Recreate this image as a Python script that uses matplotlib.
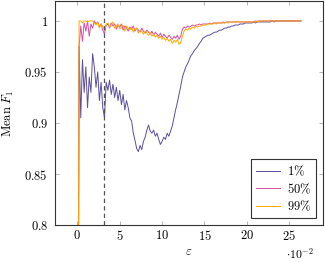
# Mean F1 against epsilon for three percentiles
import numpy as np
import matplotlib as mpl
mpl.use('Agg')
import matplotlib.pyplot as plt

mpl.rc('mathtext', fontset='cm')
mpl.rc('font', family='serif', serif=['DejaVu Serif'])

# epsilon grid, in units of 1e-2
eps = np.round(np.arange(0, 26.41, 0.2), 2)

f1_1 = [0.40, 0.975, 0.905, 0.962, 0.930, 0.955, 0.915, 0.945, 0.930, 0.968,
        0.955, 0.935, 0.950, 0.922, 0.940, 0.915, 0.905, 0.940, 0.932, 0.942,
        0.928, 0.938, 0.925, 0.935, 0.922, 0.932, 0.918, 0.928, 0.913, 0.922,
        0.915, 0.905, 0.902, 0.890, 0.883, 0.875, 0.872, 0.878, 0.874, 0.882,
        0.886, 0.893, 0.898, 0.892, 0.890, 0.893, 0.887, 0.890, 0.884, 0.879,
        0.882, 0.886, 0.884, 0.890, 0.887, 0.892, 0.897, 0.905, 0.913, 0.920,
        0.928, 0.936, 0.945, 0.950, 0.955, 0.958, 0.962, 0.966, 0.968, 0.971,
        0.973, 0.975, 0.978, 0.980, 0.983, 0.984, 0.985, 0.986, 0.986, 0.987,
        0.988, 0.989, 0.989, 0.990, 0.991, 0.991, 0.992, 0.993, 0.993, 0.994,
        0.994, 0.995, 0.995, 0.996, 0.996, 0.996, 0.997, 0.997, 0.997, 0.998,
        0.998, 0.998, 0.998, 0.998, 0.999, 0.998, 0.999, 0.999, 0.999, 0.999,
        0.999, 0.999, 0.999, 0.999, 0.999, 1.000, 0.999, 1.000, 1.000, 1.000,
        1.000, 1.000, 1.000, 1.000, 1.000, 1.000, 1.000, 1.000, 1.000, 1.000,
        1.000, 1.000, 1.000]

f1_50 = [0.30, 0.975, 0.995, 0.980, 0.998, 0.990, 1.000, 0.985, 0.997, 0.993,
         1.000, 0.997, 0.999, 0.994, 0.997, 0.991, 0.987, 0.996, 0.997, 0.993,
         0.998, 0.995, 0.997, 0.992, 0.996, 0.994, 0.997, 0.991, 0.995, 0.993,
         0.990, 0.994, 0.992, 0.995, 0.990, 0.993, 0.991, 0.989, 0.993, 0.990,
         0.988, 0.991, 0.989, 0.987, 0.990, 0.986, 0.989, 0.987, 0.985, 0.988,
         0.984, 0.987, 0.985, 0.983, 0.986, 0.984, 0.982, 0.985, 0.983, 0.986,
         0.982, 0.985, 0.992, 0.994, 0.993, 0.995, 0.994, 0.995, 0.996, 0.995,
         0.996, 0.996, 0.997, 0.996, 0.997, 0.997, 0.997, 0.997, 0.998, 0.997,
         0.998, 0.998, 0.998, 0.998, 0.998, 0.998, 0.999, 0.998, 0.999, 0.999,
         0.999, 0.999, 0.999, 0.999, 0.999, 0.999, 0.999, 0.999, 0.999, 0.999,
         0.999, 0.999, 0.999, 0.999, 0.999, 1.000, 0.999, 1.000, 1.000, 1.000,
         1.000, 1.000, 1.000, 1.000, 1.000, 1.000, 1.000, 1.000, 1.000, 1.000,
         1.000, 1.000, 1.000, 1.000, 1.000, 1.000, 1.000, 1.000, 1.000, 1.000,
         1.000, 1.000, 1.000]

f1_99 = [0.30, 1.000, 1.000, 0.998, 1.000, 1.000, 0.999, 1.000, 1.000, 1.000,
         0.998, 0.996, 0.999, 0.993, 0.997, 0.995, 0.991, 0.997, 0.998, 0.994,
         0.996, 0.999, 0.993, 0.995, 0.997, 0.992, 0.994, 0.996, 0.990, 0.995,
         0.993, 0.991, 0.994, 0.989, 0.992, 0.993, 0.988, 0.991, 0.990, 0.987,
         0.990, 0.988, 0.986, 0.989, 0.985, 0.987, 0.984, 0.986, 0.983, 0.985,
         0.982, 0.984, 0.981, 0.983, 0.980, 0.982, 0.978, 0.981, 0.979, 0.982,
         0.977, 0.979, 0.985, 0.990, 0.992, 0.991, 0.993, 0.992, 0.994, 0.993,
         0.995, 0.994, 0.995, 0.995, 0.996, 0.996, 0.996, 0.997, 0.997, 0.997,
         0.997, 0.998, 0.997, 0.998, 0.998, 0.998, 0.998, 0.998, 0.999, 0.998,
         0.999, 0.999, 0.999, 0.999, 0.999, 0.999, 0.999, 0.999, 0.999, 0.999,
         0.999, 0.999, 0.999, 0.999, 0.999, 0.999, 1.000, 0.999, 1.000, 1.000,
         1.000, 1.000, 1.000, 1.000, 1.000, 1.000, 1.000, 1.000, 1.000, 1.000,
         1.000, 1.000, 1.000, 1.000, 1.000, 1.000, 1.000, 1.000, 1.000, 1.000,
         1.000, 1.000, 1.000]

series = [f1_1, f1_50, f1_99]
labels = [r'$1\%$', r'$50\%$', r'$99\%$']
colours = ['#5B4F9F', '#D5509E', '#FFAA00']

eps_marker = 3.15
xticks = [0, 5, 10, 15, 20, 25]
yticks = [0.8, 0.85, 0.9, 0.95, 1.0]
yticklabels = ['0.8', '0.85', '0.9', '0.95', '1']

fig = plt.figure(figsize=(3.25, 2.62), dpi=100)
ax = fig.add_axes([0.169, 0.141, 0.825, 0.857])

for vals, label, c in zip(series, labels, colours):
    ax.plot(eps, vals, c=c, lw=0.7, label=label)

ax.axvline(eps_marker, color='#555555', lw=0.9, ls=(0, (3.5, 2.5)))

ax.set_xlim(-2.65, 29.0)
ax.set_ylim(0.8, 1.02)
ax.set_xticks(xticks)
ax.set_xticklabels(['$%d$' % t for t in xticks], fontsize=9)
ax.set_yticks(yticks)
ax.set_yticklabels(['$%s$' % t for t in yticklabels], fontsize=9)
ax.tick_params(direction='in', length=3, width=0.5, color='#999999',
               top=True, right=True)
ax.tick_params(axis='x', pad=3)
ax.tick_params(axis='y', pad=5)
for sp in ax.spines.values():
    sp.set_linewidth(0.8)
    sp.set_color('#333333')

ax.set_xlabel(r'$\varepsilon$', fontsize=9, labelpad=1)
ax.set_ylabel(r'$\mathrm{Mean}\ F_1$', fontsize=9, labelpad=6)
fig.text(0.922, 0.012, r'$\cdot 10^{-2}$', fontsize=8.5, ha='center', va='baseline')

leg = ax.legend(loc='lower right', bbox_to_anchor=(0.975, 0.03), fontsize=9,
                handlelength=1.9, borderaxespad=0, fancybox=False,
                framealpha=1, borderpad=0.4, labelspacing=0.25,
                handletextpad=0.6)
leg.get_frame().set_edgecolor('#333333')
leg.get_frame().set_linewidth(0.8)

fig.savefig('out.png', dpi=100)
